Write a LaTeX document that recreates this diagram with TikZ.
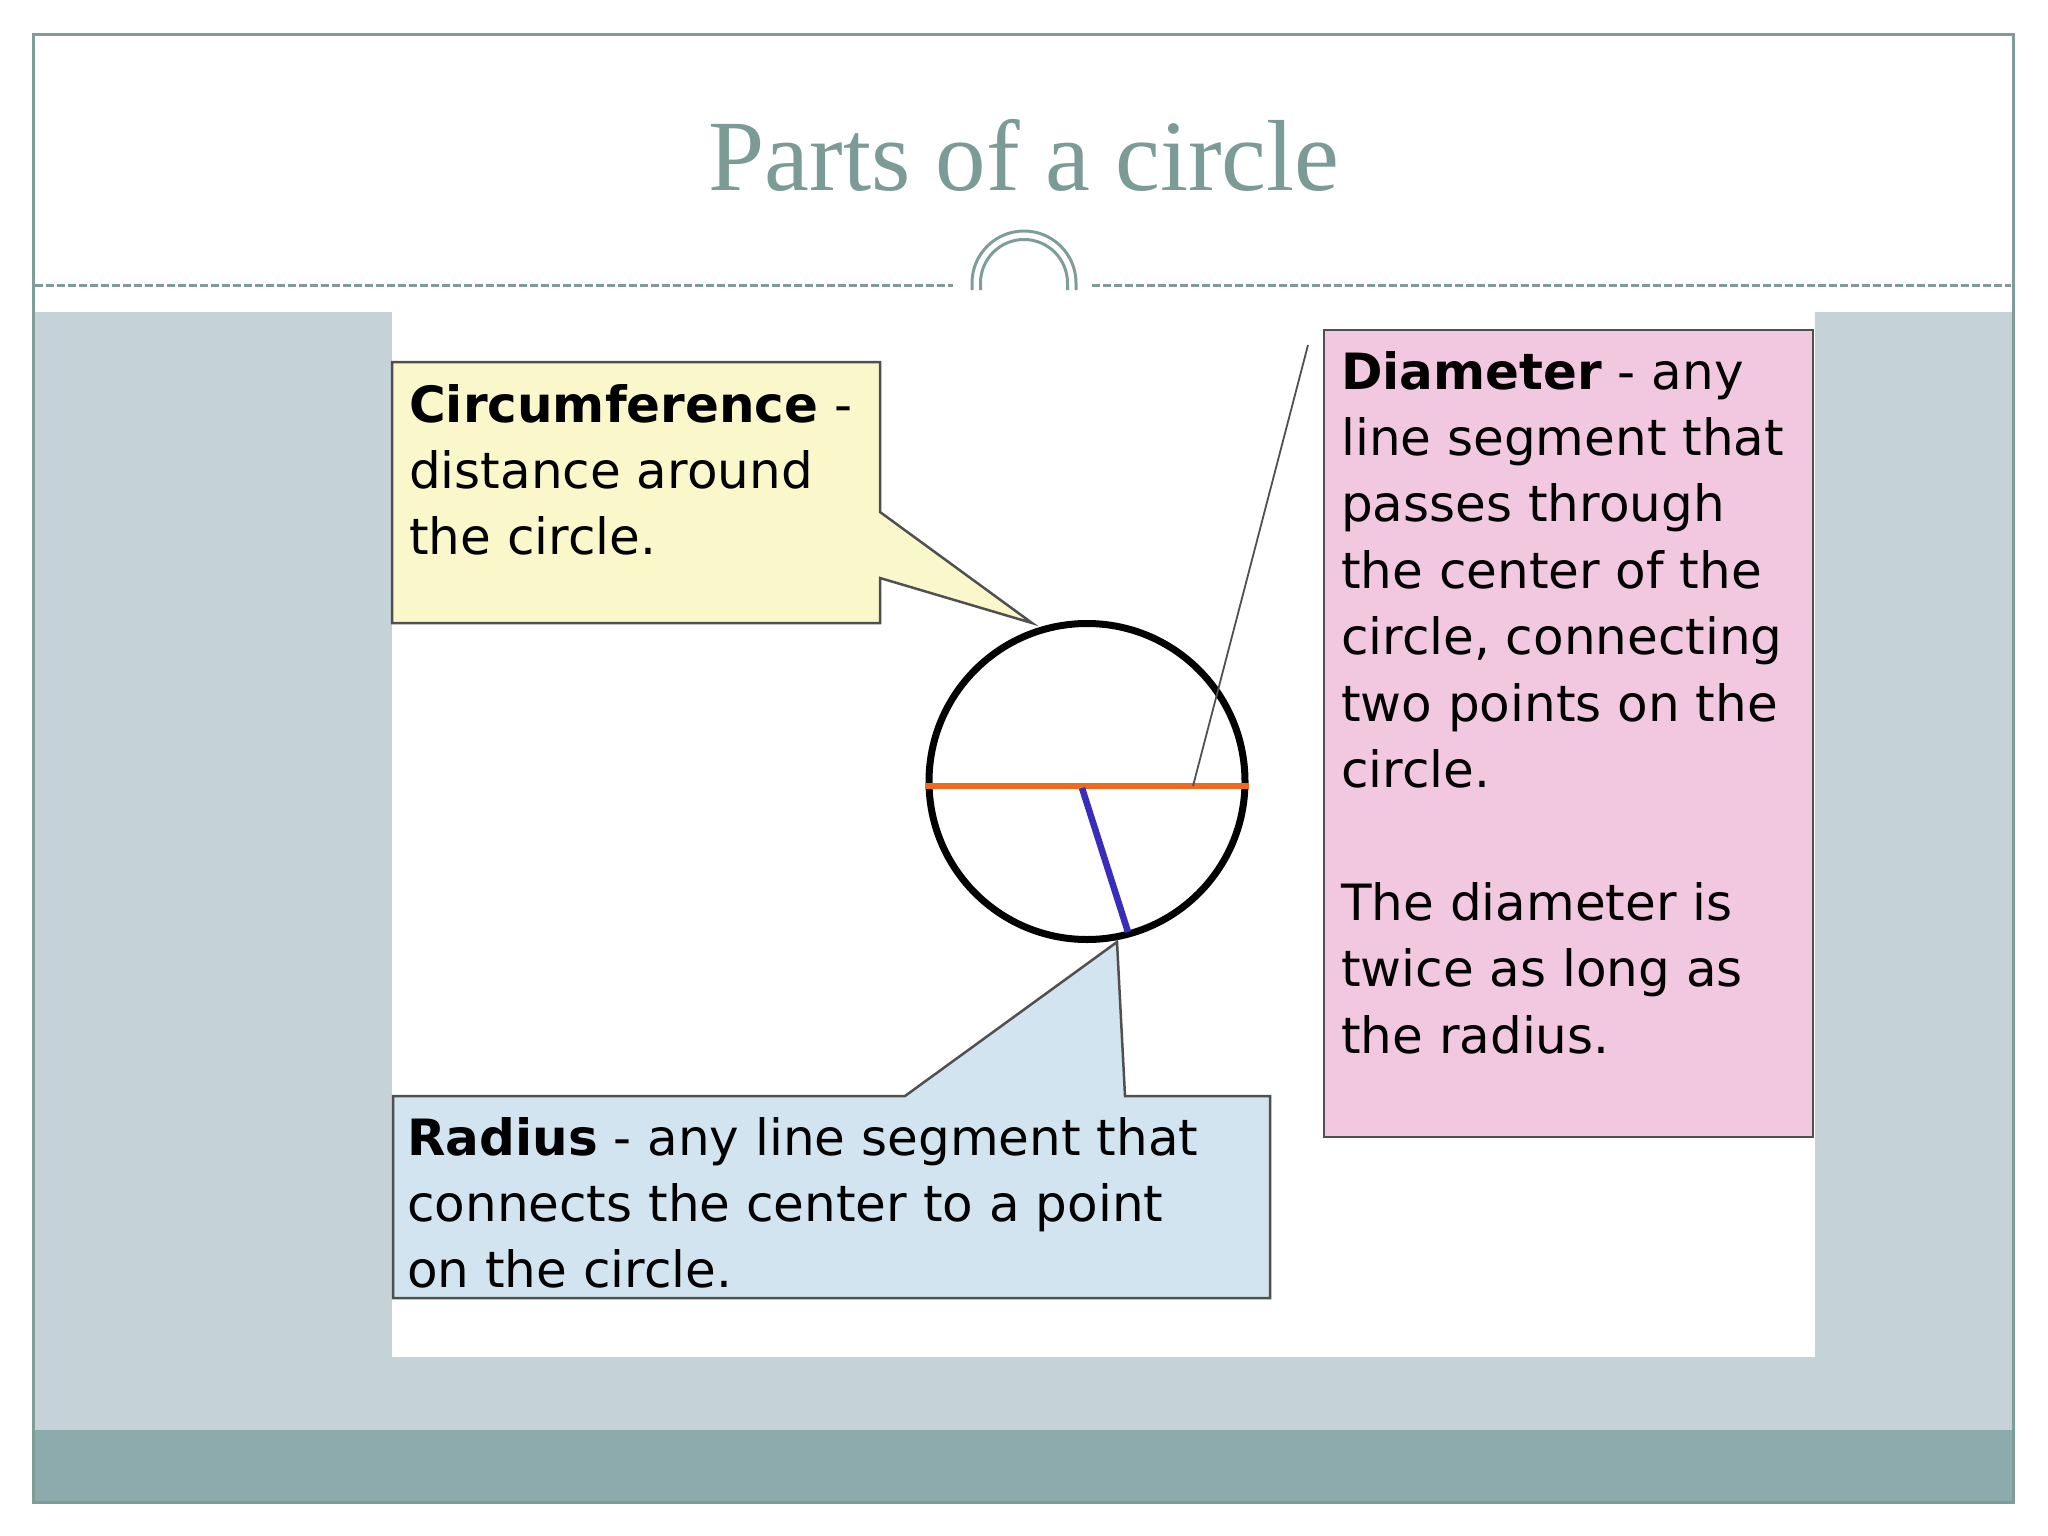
\documentclass[tikz,border=0pt]{standalone}
\usepackage{fontspec}
\setmainfont{Liberation Serif}
\newfontfamily\comicfont{DejaVu Sans}
\definecolor{teal}{HTML}{7E9D98}
\definecolor{titlecol}{HTML}{7B9B97}
\definecolor{greybg}{HTML}{C5D3D8}
\definecolor{band}{HTML}{8DAAAD}
\definecolor{yellowbox}{HTML}{FAF8CB}
\definecolor{pinkbox}{HTML}{F2C8E1}
\definecolor{bluebox}{HTML}{D1E4EF}
\definecolor{boxline}{HTML}{505050}
\definecolor{diamcol}{HTML}{F06A1E}
\definecolor{radcol}{HTML}{3A2DBA}
\tikzset{
  calloutbox/.style={draw=boxline, line width=2.5pt, line join=miter},
  boxtext/.style={anchor=north west, inner sep=0pt, align=left, text=black,
    font=\comicfont\fontsize{50}{66.4}\selectfont},
  tealdash/.style={draw=teal, line width=3pt, dash pattern=on 8pt off 3pt},
  tealarc/.style={draw=teal, line width=3pt}
}
\begin{document}
\begin{tikzpicture}[x=1pt,y=-1pt]
\useasboundingbox (0,0) rectangle (2048,1536);
\fill[white] (0,0) rectangle (2048,1536);
% background panels
\fill[greybg] (34,312) rectangle (2012,1430);
\fill[band] (34,1430) rectangle (2012,1501);
\fill[white] (392,312) rectangle (1815,1357);
% frame
\draw[teal, line width=3pt] (33,35) rectangle (2013,1502);
% title
\node[anchor=base, text=titlecol, font=\fontsize{101}{120}\selectfont, inner sep=0pt] (title) at (1024,190) {Parts of a circle};
% dashed rule and arcs
\draw[tealdash] (35,285) -- (953,285);
\draw[tealdash] (1092,285) -- (2011,285);
\draw[tealarc] (972,290) -- (972,283) arc[start angle=180, end angle=0, radius=52pt] -- (1076,290);
\draw[tealarc] (980.5,290) -- (980.5,283) arc[start angle=180, end angle=0, radius=43.5pt] -- (1067.5,290);
% coordinates
\coordinate (cc) at (1087,781.5);
\coordinate (ytip) at (1032,623);
\coordinate (btip) at (1117,942);
\coordinate (dleft) at (925,786);
\coordinate (dright) at (1249,786);
\coordinate (rend) at (1128,932);
\coordinate (ptop) at (1308,345);
\coordinate (pend) at (1193,786);
% yellow callout
\draw[calloutbox, fill=yellowbox] (392,362) -- (880,362) -- (880,512) -- (ytip) -- (880,578) -- (880,623) -- (392,623) -- cycle;
% blue callout
\draw[calloutbox, fill=bluebox] (393,1096) -- (905,1096) -- (btip) -- (1125,1096) -- (1270,1096) -- (1270,1298) -- (393,1298) -- cycle;
% pink box
\draw[calloutbox, fill=pinkbox] (1324,330) rectangle (1813,1137);
% circle and segments
\draw[black, line width=7pt] (cc) circle[radius=158pt];
\draw[diamcol, line width=6.5pt] (dleft) -- (dright);
\draw[radcol, line width=6.5pt] (1082,788) -- (rend);
\draw[boxline, line width=1.8pt] (ptop) -- (pend);
% texts
\node[boxtext] (circtext) at (409,375.5) {\strut\textbf{Circumference} -\\distance around\\the circle.};
\node[boxtext] (diamtext) at (1341,342.5) {\strut\textbf{Diameter} - any\\line segment that\\passes through\\the center of the\\circle, connecting\\two points on the\\circle.\\[66.4pt]The diameter is\\twice as long as\\the radius.};
\node[boxtext] (radtext) at (407,1108.5) {\strut\textbf{Radius} - any line segment that\\connects the center to a point\\on the circle.};
\end{tikzpicture}
\end{document}
